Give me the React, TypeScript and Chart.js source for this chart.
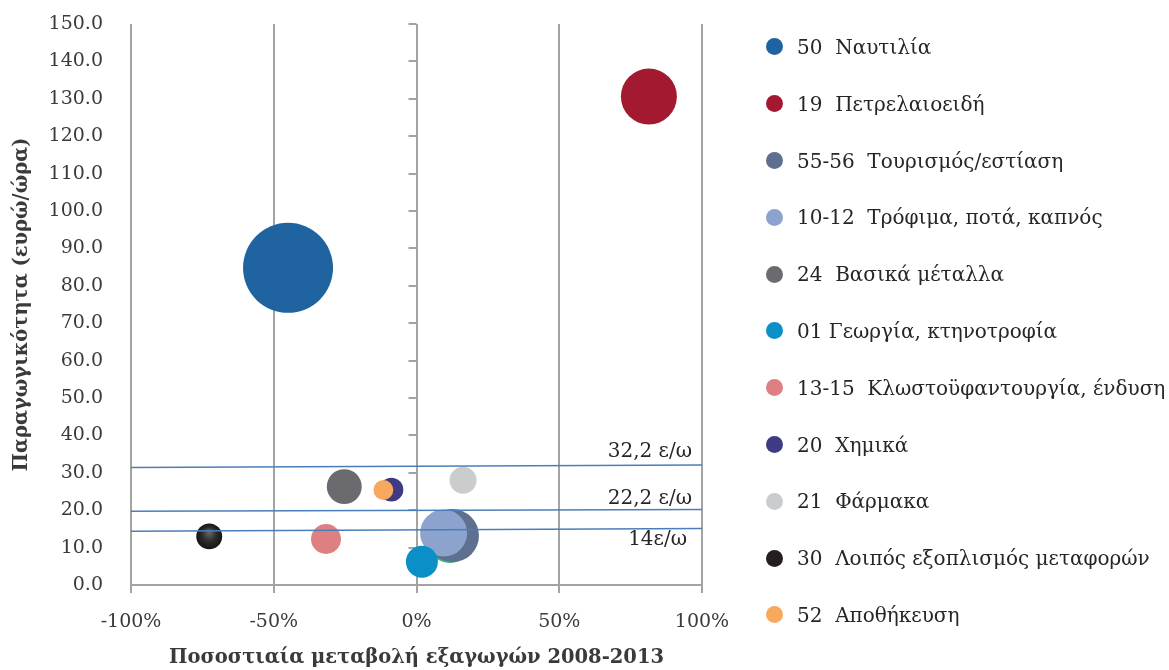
import React, { useEffect, useRef } from 'react';
import { Chart, registerables } from 'chart.js';

Chart.register(...registerables);

// ---- Data ----
const seriesNames = [
  '50  Ναυτιλία',
  '19  Πετρελαιοειδή',
  '55-56  Τουρισμός/εστίαση',
  '10-12  Τρόφιμα, ποτά, καπνός',
  '24  Βασικά μέταλλα',
  '01 Γεωργία, κτηνοτροφία',
  '13-15  Κλωστοϋφαντουργία, ένδυση',
  '20  Χημικά',
  '21  Φάρμακα',
  '30  Λοιπός εξοπλισμός μεταφορών',
  '52  Αποθήκευση',
];
const seriesColors = [
  '#1F64A0', '#A3192F', '#5E6F90', '#8CA3CD', '#6B6B6F', '#0A8FC6',
  '#DE8082', '#3E3A84', '#CBCCCE', '#231F20', '#F8A95E',
];
// Export change 2008-2013 (%)
const exportChange = [-45.0, 81.4, 12.6, 9.5, -25.3, 1.9, -31.7, -8.8, 16.3, -72.6, -11.6];
// Productivity (euro/hour)
const productivity = [84.8, 130.6, 13.2, 13.9, 26.3, 6.2, 12.3, 25.5, 28.0, 13.0, 25.4];
// Relative bubble size
const bubbleSize = [100, 38.7, 34.7, 27.3, 15.1, 12.6, 11.1, 7.1, 9.0, 8.3, 4.9];

// partially hidden series behind the food/tourism bubbles
const hiddenX = [11.7];
const hiddenY = [12.0];
const hiddenSize = [26.1];
const hiddenColor = '#3BB87A';

// reference productivity lines
const refLabels = ['32,2 ε/ω', '22,2 ε/ω', '14ε/ω'];
const refStartY = [31.4, 19.7, 14.4];
const refEndY = [32.1, 20.2, 15.1];
const xRange = [-100, 100];

const yTicksMax = 150;
const yStep = 10;
const xStep = 50;

const FONT = '"DejaVu Serif", "Liberation Serif", serif';
const TEXT = '#3a3a3a';
const GRID = '#A3A3A3';
const MAX_R = 45;
const radiusOf = (s: number) => MAX_R * Math.sqrt(s / 100);

const refLabelOffsets = [
  { dx: -10, dy: -13 },
  { dx: -10, dy: -11 },
  { dx: -15, dy: 11 },
];

const overlayPlugin = {
  id: 'overlay',
  beforeDatasetsDraw(chart: any) {
    const { ctx, scales } = chart;
    const xs = scales.x;
    const ys = scales.y;
    const x0 = xs.getPixelForValue(0);
    ctx.save();
    ctx.strokeStyle = GRID;
    ctx.lineWidth = 2;
    for (let v = 0; v <= yTicksMax; v += yStep) {
      const y = Math.round(ys.getPixelForValue(v));
      ctx.beginPath();
      ctx.moveTo(x0 - 8, y);
      ctx.lineTo(x0, y);
      ctx.stroke();
    }
    ctx.restore();
  },
  afterDatasetsDraw(chart: any) {
    const { ctx, scales } = chart;
    const xs = scales.x;
    const ys = scales.y;
    ctx.save();
    ctx.font = '20px ' + FONT;
    ctx.fillStyle = '#262626';
    ctx.textAlign = 'right';
    ctx.textBaseline = 'middle';
    refLabels.forEach((lab, i) => {
      const x = xs.getPixelForValue(xRange[1]) + refLabelOffsets[i].dx;
      const y = ys.getPixelForValue(refEndY[i]) + refLabelOffsets[i].dy;
      ctx.fillText(lab, x, y);
    });
    ctx.restore();
  },
};

export default function App() {
  const ref = useRef<HTMLCanvasElement | null>(null);

  useEffect(() => {
    if (!ref.current) return;
    Chart.defaults.font.family = FONT;

    const bubbleSets: any[] = seriesNames.map((name, i) => ({
      type: 'bubble',
      label: name,
      data: [{ x: exportChange[i], y: productivity[i], r: radiusOf(bubbleSize[i]) }],
      backgroundColor:
        i === 9
          ? (c: any) => {
              const raw = c.raw;
              const chart = c.chart;
              if (!raw || !chart.scales || !chart.scales.x || !chart.scales.y) return seriesColors[i];
              const cx = chart.scales.x.getPixelForValue(raw.x);
              const cy = chart.scales.y.getPixelForValue(raw.y);
              const r = raw.r;
              if (![cx, cy, r].every((v) => Number.isFinite(v))) return seriesColors[i];
              const g = chart.ctx.createRadialGradient(cx, cy - r * 0.35, 0, cx, cy, r);
              g.addColorStop(0, '#6a6a6a');
              g.addColorStop(0.55, '#2c2c2c');
              g.addColorStop(1, '#141414');
              return g;
            }
          : seriesColors[i],
      hoverBackgroundColor: seriesColors[i],
      borderWidth: 0,
      order: -i,
    }));

    const hiddenSet: any = {
      type: 'bubble',
      label: 'hidden',
      data: hiddenX.map((x, i) => ({ x, y: hiddenY[i], r: radiusOf(hiddenSize[i]) })),
      backgroundColor: hiddenColor,
      borderWidth: 0,
      order: 10,
    };

    const lineSets: any[] = refLabels.map((lab, i) => ({
      type: 'line',
      label: lab,
      data: [
        { x: xRange[0], y: refStartY[i] },
        { x: xRange[1], y: refEndY[i] },
      ],
      borderColor: '#4A7EBB',
      borderWidth: 1.5,
      pointRadius: 0,
      fill: false,
      order: -50,
    }));

    const chart = new Chart(ref.current, {
      type: 'bubble',
      data: { datasets: [...bubbleSets, hiddenSet, ...lineSets] },
      options: {
        responsive: false,
        animation: false,
        layout: { autoPadding: false, padding: { top: 24, right: 467, left: 0, bottom: 0 } },
        plugins: {
          legend: { display: false },
          tooltip: { enabled: false },
        },
        scales: {
          x: {
            type: 'linear',
            min: xRange[0],
            max: xRange[1],
            afterFit: (s: any) => {
              s.height = 85;
            },
            ticks: {
              stepSize: xStep,
              callback: (v: any) => `${v}%`,
              font: { size: 19, family: FONT },
              color: TEXT,
              padding: 18,
              maxRotation: 0,
            },
            grid: {
              color: GRID,
              lineWidth: 2,
              tickLength: 8,
              drawTicks: true,
            },
            border: { display: true, color: GRID, width: 2 },
            title: {
              display: true,
              text: 'Ποσοστιαία μεταβολή εξαγωγών 2008-2013',
              font: { size: 19.5, weight: 'bold', family: FONT },
              color: TEXT,
              padding: { top: 0, bottom: 0 },
            },
          },
          y: {
            type: 'linear',
            min: 0,
            max: yTicksMax,
            afterFit: (s: any) => {
              s.width = 131;
              s.paddingTop = 0;
              s.paddingBottom = 0;
            },
            ticks: {
              stepSize: yStep,
              callback: (v: any) => Number(v).toFixed(1),
              font: { size: 19, family: FONT },
              color: TEXT,
              padding: 20,
            },
            grid: { display: false },
            border: { display: false },
            title: {
              display: true,
              text: 'Παραγωγικότητα (ευρώ/ώρα)',
              font: { size: 19.5, weight: 'bold', family: FONT },
              color: TEXT,
              padding: { top: 10, bottom: 0 },
            },
          },
        },
      } as any,
      plugins: [overlayPlugin],
    });

    return () => chart.destroy();
  }, []);

  return (
    <div
      style={{
        position: 'fixed',
        left: 0,
        top: 0,
        width: 1169,
        height: 670,
        overflow: 'hidden',
        background: '#fff',
      }}
    >
      <canvas
        ref={ref}
        width={1169}
        height={670}
        style={{ position: 'absolute', left: 0, top: 0, width: 1169, height: 670 }}
      />
      <div style={{ position: 'absolute', left: 766, top: 18.6 }}>
        {seriesNames.map((n, i) => (
          <div
            key={i}
            style={{
              height: 56.8,
              display: 'flex',
              alignItems: 'center',
              whiteSpace: 'pre',
              font: `20px ${FONT}`,
              color: '#262626',
            }}
          >
            <span
              style={{
                width: 17,
                height: 17,
                borderRadius: '50%',
                background: seriesColors[i],
                marginRight: 14,
                flex: 'none',
                display: 'inline-block',
              }}
            />
            {n}
          </div>
        ))}
      </div>
    </div>
  );
}
